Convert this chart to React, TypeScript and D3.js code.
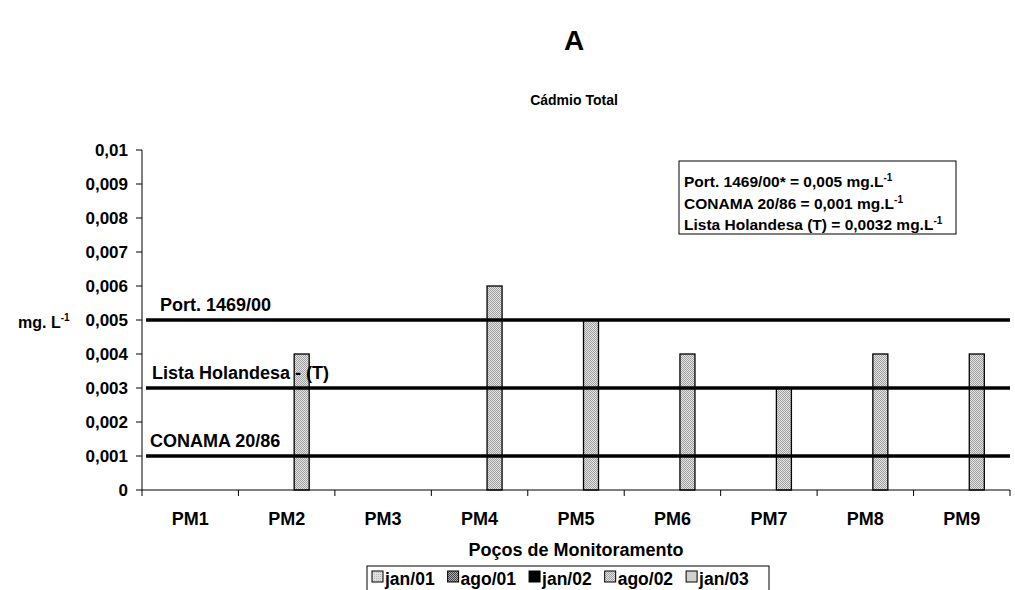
import React from "react";
import * as d3 from "d3";

const categories = ["PM1", "PM2", "PM3", "PM4", "PM5", "PM6", "PM7", "PM8", "PM9"];
const seriesNames = ["jan/01", "ago/01", "jan/02", "ago/02", "jan/03"];
const jan01: (number | null)[] = [null, null, null, null, null, null, null, null, null];
const ago01: (number | null)[] = [null, null, null, null, null, null, null, null, null];
const jan02: (number | null)[] = [null, null, null, null, null, null, null, null, null];
const ago02: (number | null)[] = [null, 0.004, null, 0.006, 0.005, 0.004, 0.003, 0.004, 0.004];
const jan03: (number | null)[] = [null, null, null, null, null, null, null, null, null];
const yTicks = [0, 0.001, 0.002, 0.003, 0.004, 0.005, 0.006, 0.007, 0.008, 0.009, 0.01];
const refLines = [
  { value: 0.005, label: "Port. 1469/00" },
  { value: 0.003, label: "Lista Holandesa - (T)" },
  { value: 0.001, label: "CONAMA 20/86" },
];
const boxLines = [
  "Port. 1469/00* = 0,005 mg.L",
  "CONAMA 20/86 = 0,001 mg.L",
  "Lista Holandesa (T) = 0,0032 mg.L",
];

const FONT = "'Liberation Sans', Arial, sans-serif";
const fills = ["url(#pLight)", "url(#pDark)", "#000", "url(#pDot)", "#d0d0d0"];

function textW(s: string, size: number) {
  const w: Record<string, number> = { j: 0.278, a: 0.556, n: 0.611, g: 0.611, o: 0.611, "/": 0.278, "0": 0.556, "1": 0.556, "2": 0.556, "3": 0.556 };
  let t = 0;
  for (const c of s) t += w[c] ?? 0.556;
  return t * size;
}

export default function App() {
  const left = 142, right = 1010, top = 150, bottom = 490;
  const x = d3.scaleBand<string>().domain(categories).range([left, right]).padding(0);
  const xs = d3.scaleBand<string>().domain(seriesNames).range([0, x.bandwidth()]).paddingInner(0).paddingOuter(0.713);
  const y = d3.scaleLinear().domain([0, 0.01]).range([bottom, top]);
  const allSeries = [jan01, ago01, jan02, ago02, jan03];
  const fmt = (v: number) => (v === 0 ? "0" : d3.format(".3~f")(v).replace(".", ","));

  const legendFont = 17.5;
  const legendPos: number[] = [];
  let cur = 372;
  seriesNames.forEach((s) => {
    legendPos.push(cur);
    cur += 14 + textW(s, legendFont) + 12;
  });

  return (
    <svg width={1015} height={590} style={{ position: "absolute", left: 0, top: 0, background: "#fff" }} fontFamily={FONT}>
      <defs>
        <pattern id="pDot" width="2" height="2" patternUnits="userSpaceOnUse">
          <rect width="2" height="2" fill="#e4e4e4" />
          <rect width="1" height="1" fill="#a0a0a0" />
          <rect x="1" y="1" width="1" height="1" fill="#a0a0a0" />
        </pattern>
        <pattern id="pDark" width="2" height="2" patternUnits="userSpaceOnUse">
          <rect width="2" height="2" fill="#b0b0b0" />
          <rect width="1" height="1" fill="#404040" />
          <rect x="1" y="1" width="1" height="1" fill="#404040" />
        </pattern>
        <pattern id="pLight" width="2" height="2" patternUnits="userSpaceOnUse">
          <rect width="2" height="2" fill="#e0e0e0" />
          <rect width="1" height="1" fill="#b8b8b8" />
        </pattern>
      </defs>
      <text x={574} y={50} textAnchor="middle" fontWeight="bold" fontSize={28}>A</text>
      <text x={574} y={105} textAnchor="middle" fontWeight="bold" fontSize={14}>Cádmio Total</text>

      {/* bars */}
      {allSeries.map((vals, si) =>
        vals.map((v, ci) =>
          v == null ? null : (
            <rect
              key={`${si}-${ci}`}
              x={(x(categories[ci]) ?? 0) + (xs(seriesNames[si]) ?? 0)}
              y={y(v)}
              width={xs.bandwidth()}
              height={bottom - y(v)}
              fill={fills[si]}
              stroke="#000"
              strokeWidth={1.3}
            />
          )
        )
      )}

      {/* y axis */}
      <line x1={left} x2={left} y1={top} y2={bottom} stroke="#000" />
      {yTicks.map((t) => (
        <g key={t}>
          <line x1={left - 6} x2={left} y1={y(t)} y2={y(t)} stroke="#000" />
          <text x={128} y={y(t) + 6} textAnchor="end" fontWeight="bold" fontSize={17}>{fmt(t)}</text>
        </g>
      ))}
      <text x={18} y={328} fontWeight="bold" fontSize={16}>
        mg. L<tspan dy={-7} fontSize={10}>-1</tspan>
      </text>

      {/* x axis */}
      <line x1={left} x2={right} y1={bottom} y2={bottom} stroke="#000" />
      {categories.map((c) => (
        <g key={c}>
          <line x1={x(c) ?? 0} x2={x(c) ?? 0} y1={bottom} y2={bottom + 6} stroke="#000" />
          <text x={(x(c) ?? 0) + x.bandwidth() / 2} y={525} textAnchor="middle" fontWeight="bold" fontSize={18}>{c}</text>
        </g>
      ))}
      <line x1={right} x2={right} y1={bottom} y2={bottom + 6} stroke="#000" />
      <text x={576} y={556} textAnchor="middle" fontWeight="bold" fontSize={18}>Poços de Monitoramento</text>

      {/* reference lines */}
      {refLines.map((r, i) => (
        <g key={r.label}>
          <line x1={146} x2={right} y1={y(r.value)} y2={y(r.value)} stroke="#000" strokeWidth={3.5} />
          <text x={[160, 152, 150][i]} y={y(r.value) - 9} fontWeight="bold" fontSize={18}>{r.label}</text>
        </g>
      ))}

      {/* annotation box */}
      <rect x={679} y={161} width={277} height={73} fill="#fff" stroke="#000" strokeWidth={1} />
      {boxLines.map((t, i) => (
        <text key={t} x={684} y={187 + i * 21.5} fontWeight="bold" fontSize={15.5}>
          {t}<tspan dy={-6} fontSize={10}>-1</tspan>
        </text>
      ))}

      {/* legend */}
      <rect x={367} y={566} width={402} height={40} fill="#fff" stroke="#000" strokeWidth={1} />
      {seriesNames.map((s, i) => (
        <g key={s}>
          <rect x={legendPos[i]} y={571} width={11} height={11} fill={fills[i]} stroke="#000" />
          <text x={legendPos[i] + 13} y={585} fontWeight="bold" fontSize={legendFont}>{s}</text>
        </g>
      ))}
    </svg>
  );
}
